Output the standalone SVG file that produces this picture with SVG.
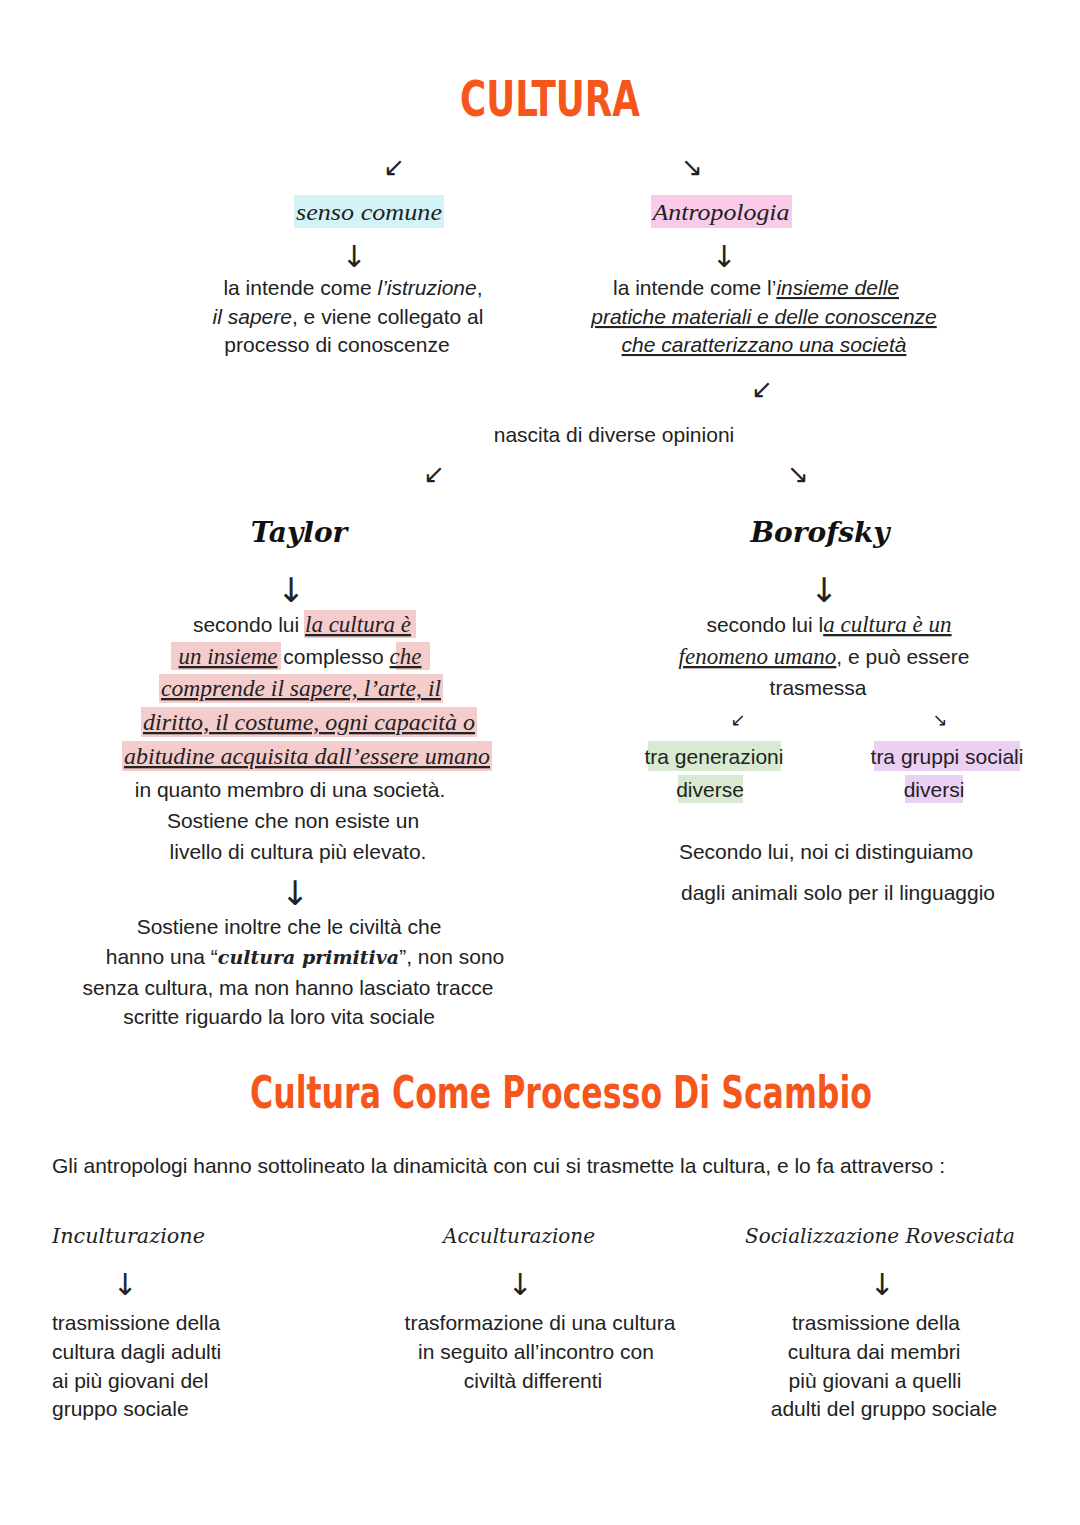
<svg xmlns="http://www.w3.org/2000/svg" width="1080" height="1525" viewBox="0 0 1080 1525">
<style>
.t{font-family:"Liberation Sans",Arial,sans-serif;font-size:21px;fill:#222}
.s{font-family:"Liberation Serif","DejaVu Serif",serif;font-size:23px;font-style:italic;fill:#222}
.u{text-decoration:underline}
.h{font-family:"DejaVu Sans Condensed","Liberation Sans",sans-serif;font-weight:bold;fill:#f5561c}
.n{font-family:"DejaVu Serif",serif;font-weight:bold;font-style:italic;font-size:28px;fill:#111}
.c{font-family:"DejaVu Serif",serif;font-style:italic;font-size:21px;fill:#222}
.a{font-family:"DejaVu Sans",sans-serif;fill:#222}
</style>
<rect width="1080" height="1525" fill="#fff"/>
<g id="title"><text class="h" x="460" y="116" font-size="50" textLength="180" lengthAdjust="spacingAndGlyphs">CULTURA</text></g>
<g id="connectors" class="a">
<text x="394" y="176" font-size="26" text-anchor="middle">↙</text>
<text x="692" y="176" font-size="26" text-anchor="middle">↘</text>
<text x="354" y="267" font-size="30" text-anchor="middle">↓</text>
<text x="724" y="267" font-size="30" text-anchor="middle">↓</text>
<text x="762" y="398" font-size="26" text-anchor="middle">↙</text>
<text x="434" y="483" font-size="26" text-anchor="middle">↙</text>
<text x="798" y="483" font-size="26" text-anchor="middle">↘</text>
<text x="291" y="602" font-size="34" text-anchor="middle">↓</text>
<text x="824" y="602" font-size="34" text-anchor="middle">↓</text>
<text x="738" y="726" font-size="18" text-anchor="middle">↙</text>
<text x="940" y="726" font-size="18" text-anchor="middle">↘</text>
<text x="295" y="905" font-size="34" text-anchor="middle">↓</text>
<text x="125" y="1295" font-size="30" text-anchor="middle">↓</text>
<text x="520" y="1295" font-size="30" text-anchor="middle">↓</text>
<text x="882" y="1295" font-size="30" text-anchor="middle">↓</text>
</g>
<g id="senso">
<rect x="294" y="195" width="150" height="33" fill="#d3f3f6"/>
<text class="s" x="369" y="220" text-anchor="middle" textLength="146" lengthAdjust="spacingAndGlyphs">senso comune</text>
</g>
<g id="antropologia">
<rect x="651" y="195" width="141" height="33" fill="#f9cbe9"/>
<text class="s" x="721" y="220" text-anchor="middle" textLength="137" lengthAdjust="spacingAndGlyphs">Antropologia</text>
</g>
<g id="senso-def" class="t" text-anchor="middle">
<text x="353" y="295">la intende come <tspan font-style="italic">l’istruzione</tspan>,</text>
<text x="348" y="324"><tspan font-style="italic">il sapere</tspan>, e viene collegato al</text>
<text x="337" y="352">processo di conoscenze</text>
</g>
<g id="antro-def" class="t" text-anchor="middle">
<text x="756" y="295">la intende come l’<tspan font-style="italic" class="u">insieme delle</tspan></text>
<text x="764" y="324" font-style="italic" class="u">pratiche materiali e delle conoscenze</text>
<text x="764" y="352" font-style="italic" class="u">che caratterizzano una società</text>
</g>
<g id="opinioni"><text class="t" x="614" y="442" text-anchor="middle">nascita di diverse opinioni</text></g>
<g id="taylor"><text class="n" x="299" y="542" text-anchor="middle">Taylor</text></g>
<g id="borofsky"><text class="n" x="820" y="542" text-anchor="middle">Borofsky</text></g>
<g id="taylor-def">
<rect x="304" y="610" width="112" height="28" fill="#f4cccc"/>
<rect x="171" y="642" width="110" height="28" fill="#f4cccc"/>
<rect x="396" y="642" width="34" height="28" fill="#f4cccc"/>
<rect x="159" y="674" width="284" height="29" fill="#f4cccc"/>
<rect x="141" y="707" width="336" height="30" fill="#f4cccc"/>
<rect x="122" y="741" width="370" height="30" fill="#f4cccc"/>
<text x="302" y="632" text-anchor="middle"><tspan class="t">secondo lui </tspan><tspan class="s u">la cultura è</tspan></text>
<text x="300" y="664" text-anchor="middle"><tspan class="s u">un insieme</tspan><tspan class="t"> complesso </tspan><tspan class="s u">che</tspan></text>
<text class="s u" x="301" y="696" text-anchor="middle" textLength="280" lengthAdjust="spacingAndGlyphs">comprende il sapere, l’arte, il</text>
<text class="s u" x="309" y="730" text-anchor="middle" textLength="332" lengthAdjust="spacingAndGlyphs">diritto, il costume, ogni capacità o</text>
<text class="s u" x="307" y="764" text-anchor="middle" textLength="366" lengthAdjust="spacingAndGlyphs">abitudine acquisita dall’essere umano</text>
<text class="t" x="290" y="797" text-anchor="middle">in quanto membro di una società.</text>
<text class="t" x="293" y="828" text-anchor="middle">Sostiene che non esiste un</text>
<text class="t" x="298" y="859" text-anchor="middle">livello di cultura più elevato.</text>
</g>
<g id="taylor-more" class="t" text-anchor="middle">
<text x="289" y="934">Sostiene inoltre che le civiltà che</text>
<text x="305" y="964">hanno una “<tspan font-family="DejaVu Serif,serif" font-weight="bold" font-style="italic" font-size="19">cultura primitiva</tspan>”, non sono</text>
<text x="288" y="995">senza cultura, ma non hanno lasciato tracce</text>
<text x="279" y="1024">scritte riguardo la loro vita sociale</text>
</g>
<g id="borofsky-def" text-anchor="middle">
<text x="829" y="632"><tspan class="t">secondo lui l</tspan><tspan class="s u">a cultura è un</tspan></text>
<text x="824" y="664"><tspan class="s u">fenomeno umano</tspan><tspan class="t">, e può essere</tspan></text>
<text class="t" x="818" y="695">trasmessa</text>
</g>
<g id="generazioni">
<rect x="648" y="741" width="133" height="30" fill="#d9ead3"/>
<rect x="678" y="775" width="65" height="28" fill="#d9ead3"/>
<text class="t" x="714" y="764" text-anchor="middle" font-size="20">tra generazioni</text>
<text class="t" x="710" y="797" text-anchor="middle" font-size="20">diverse</text>
</g>
<g id="gruppi">
<rect x="874" y="741" width="146" height="30" fill="#ecd0f3"/>
<rect x="905" y="775" width="58" height="28" fill="#ecd0f3"/>
<text class="t" x="947" y="764" text-anchor="middle" font-size="20">tra gruppi sociali</text>
<text class="t" x="934" y="797" text-anchor="middle" font-size="20">diversi</text>
</g>
<g id="linguaggio" class="t" text-anchor="middle">
<text x="826" y="859">Secondo lui, noi ci distinguiamo</text>
<text x="838" y="900">dagli animali solo per il linguaggio</text>
</g>
<g id="title2"><text class="h" x="250" y="1108" font-size="44" textLength="622" lengthAdjust="spacingAndGlyphs">Cultura Come Processo Di Scambio</text></g>
<g id="intro"><text class="t" x="52" y="1173">Gli antropologi hanno sottolineato la dinamicità con cui si trasmette la cultura, e lo fa attraverso :</text></g>
<g id="inculturazione">
<text class="c" x="52" y="1243" textLength="153" lengthAdjust="spacingAndGlyphs">Inculturazione</text>
<text class="t" x="52" y="1330">trasmissione della</text>
<text class="t" x="52" y="1359">cultura dagli adulti</text>
<text class="t" x="52" y="1388">ai più giovani del</text>
<text class="t" x="52" y="1416">gruppo sociale</text>
</g>
<g id="acculturazione" text-anchor="middle">
<text class="c" x="519" y="1243" textLength="152" lengthAdjust="spacingAndGlyphs">Acculturazione</text>
<text class="t" x="540" y="1330">trasformazione di una cultura</text>
<text class="t" x="536" y="1359">in seguito all’incontro con</text>
<text class="t" x="533" y="1388">civiltà differenti</text>
</g>
<g id="socializzazione" text-anchor="middle">
<text class="c" x="880" y="1243" textLength="270" lengthAdjust="spacingAndGlyphs">Socializzazione Rovesciata</text>
<text class="t" x="876" y="1330">trasmissione della</text>
<text class="t" x="874" y="1359">cultura dai membri</text>
<text class="t" x="875" y="1388">più giovani a quelli</text>
<text class="t" x="884" y="1416">adulti del gruppo sociale</text>
</g>
</svg>
